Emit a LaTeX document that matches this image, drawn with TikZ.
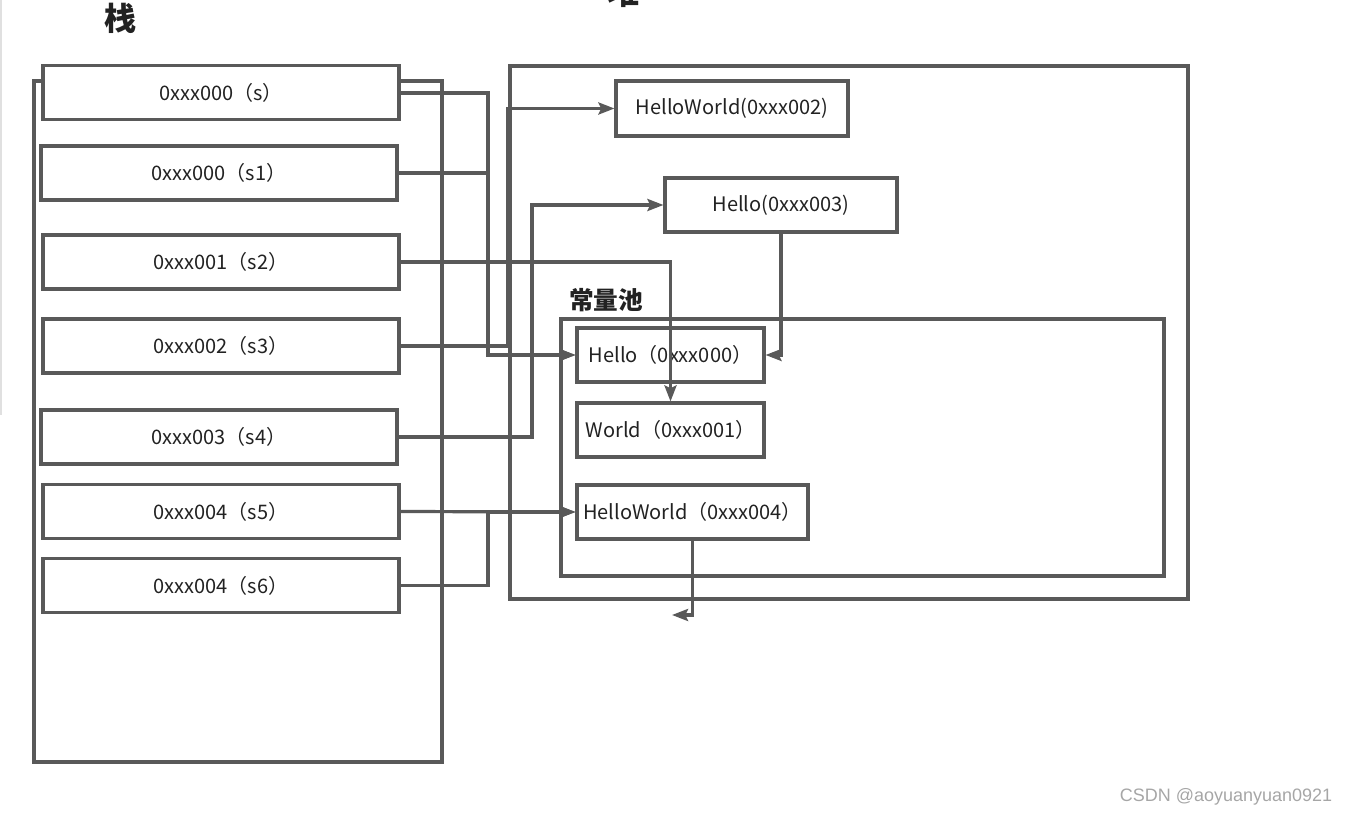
\documentclass[tikz,border=0pt]{standalone}
\usepackage{fontspec}
\setmainfont{Noto Sans CJK SC}
\newfontfamily\wmfont{Liberation Sans}
\usetikzlibrary{arrows.meta}
\definecolor{ln}{HTML}{595959}
\definecolor{tx}{HTML}{222222}
\definecolor{wm}{HTML}{A6A6A6}
\begin{document}
\begin{tikzpicture}[x=0.75pt,y=-0.75pt,
  container/.style={draw=ln,line width=2.3pt},
  stk/.style={draw=ln,line width=2.3pt,fill=white,inner sep=0pt,text=tx,
    font=\fontsize{15}{17}\selectfont,minimum width=267pt,minimum height=40.5pt},
  heapbox/.style={draw=ln,line width=2.3pt,fill=white,inner sep=0pt,text=tx,
    font=\fontsize{15}{17}\selectfont,minimum height=40.5pt},
  conn/.style={draw=ln,line width=2.4pt,-{Stealth[length=12pt,width=9pt,inset=2pt]}},
  title/.style={text=tx,font=\bfseries\fontsize{24}{28}\selectfont,inner sep=0pt},
]
\useasboundingbox (0,0) rectangle (1353,816);
\clip (0,0) rectangle (1353,816);

% faint left border artifact
\draw[black!12,line width=1.5pt] (1,0) -- (1,415);

% containers
\draw[container] (34,81) rectangle (442,762);
\draw[container] (510,66) rectangle (1188,599);
\draw[container] (561,319) rectangle (1164,576);

% titles
\node[title] (tStack) at (120,18) {栈};
\node[title] (tHeap) at (623,-8) {堆};
\node[title,font=\bfseries\fontsize{18.5}{22}\selectfont] (tPool) at (606,300) {常量池};

% stack entries
\node[stk] (s)  at (221,92.5)  {0xxx000（s）};
\node[stk] (s1) at (219,173)   {0xxx000（s1）};
\node[stk] (s2) at (221,262)   {0xxx001（s2）};
\node[stk] (s3) at (221,346)   {0xxx002（s3）};
\node[stk] (s4) at (219,437)   {0xxx003（s4）};
\node[stk] (s5) at (221,511.5) {0xxx004（s5）};
\node[stk] (s6) at (221,585.5) {0xxx004（s6）};

% heap objects
\node[heapbox,minimum width=174pt,minimum height=41.25pt] (hw2) at (732,108.5) {HelloWorld(0xxx002)};
\node[heapbox,minimum width=174pt] (h3) at (781,205) {Hello(0xxx003)};
\node[heapbox,minimum width=140.25pt] (hello) at (670.5,355) {Hello（0xxx000）};
\node[heapbox,minimum width=140.25pt] (world) at (670.5,430) {World（0xxx001）};
\node[heapbox,minimum width=173.25pt] (hw4) at (692.5,512) {HelloWorld（0xxx004）};

\coordinate (free) at (672,615);

% connectors
\draw[conn] (s.east |- 0,93) -- (488,93) |- (hello.west);
\draw[conn] (s1.east) -- (488,173) |- (hello.west);
\draw[conn] (s2.east) -| (world.north);
\draw[conn] (s3.east) -- (508,346) |- (hw2.west);
\draw[conn] (s4.east) -- (532,437) |- (h3.west);
\draw[conn] (s5.east) -- (hw4.west);
\draw[conn] (s6.east) -- (488,585.5) |- (hw4.west);
\draw[conn] (h3.south) |- (hello.east);
\draw[conn] (hw4.south) |- (free);

% watermark
\node[text=wm,font=\wmfont\fontsize{13.5}{16}\selectfont,inner sep=0pt] (wmk) at (1226,797) {CSDN @aoyuanyuan0921};
\end{tikzpicture}
\end{document}
